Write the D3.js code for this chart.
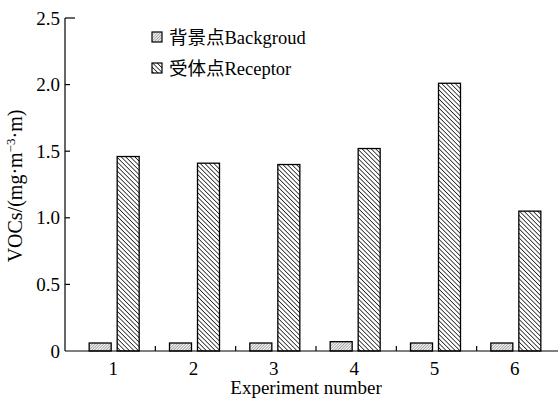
<!DOCTYPE html>
<html>
<head>
<meta charset="utf-8">
<script src="https://cdn.jsdelivr.net/npm/d3@7"></script>
<style>
  body { margin: 0; background: #fff; }
  text { font-family: "Liberation Serif", "Noto Sans CJK SC", serif; fill: #000; }
</style>
</head>
<body>
<div id="chart"></div>
<script>
const experiments = ["1", "2", "3", "4", "5", "6"];
const background = [0.06, 0.06, 0.06, 0.07, 0.06, 0.06];
const receptor = [1.46, 1.41, 1.40, 1.52, 2.01, 1.05];
const yTicks = [0, 0.5, 1.0, 1.5, 2.0, 2.5];
const seriesNames = ["背景点Backgroud", "受体点Receptor"];

const width = 559;
const height = 398;

const svg = d3.select("#chart")
  .append("svg")
  .attr("width", width)
  .attr("height", height);

const defs = svg.append("defs");

// fine "/" hatch for background
defs.append("pattern")
  .attr("id", "hatch-bg")
  .attr("patternUnits", "userSpaceOnUse")
  .attr("width", 2)
  .attr("height", 2)
  .attr("patternTransform", "rotate(45)")
  .append("line")
  .attr("x1", 0).attr("y1", 0).attr("x2", 0).attr("y2", 2)
  .attr("stroke", "#333")
  .attr("stroke-width", 0.9);

// wider "\" hatch for receptor
defs.append("pattern")
  .attr("id", "hatch-rec")
  .attr("patternUnits", "userSpaceOnUse")
  .attr("width", 3.2)
  .attr("height", 3.2)
  .attr("patternTransform", "rotate(-45)")
  .append("line")
  .attr("x1", 0).attr("y1", 0).attr("x2", 0).attr("y2", 3.2)
  .attr("stroke", "#000")
  .attr("stroke-width", 1.4);

const fills = ["url(#hatch-bg)", "url(#hatch-rec)"];

const x = d3.scaleBand()
  .domain(experiments)
  .range([75, 557]);

const y = d3.scaleLinear()
  .domain([0, 2.5])
  .range([351, 18]);

const barW = 22;
const gap = 6;

// bars
const groups = svg.selectAll("g.group")
  .data(experiments)
  .enter()
  .append("g")
  .attr("class", "group");

groups.append("rect")
  .attr("x", (d) => x(d) + x.bandwidth() / 2 - gap / 2 - barW - 1)
  .attr("y", (d, i) => y(background[i]))
  .attr("width", barW)
  .attr("height", (d, i) => y(0) - y(background[i]))
  .attr("fill", fills[0])
  .attr("stroke", "#000")
  .attr("stroke-width", 1.3);

groups.append("rect")
  .attr("x", (d) => x(d) + x.bandwidth() / 2 + gap / 2 - 1)
  .attr("y", (d, i) => y(receptor[i]))
  .attr("width", barW)
  .attr("height", (d, i) => y(0) - y(receptor[i]))
  .attr("fill", fills[1])
  .attr("stroke", "#000")
  .attr("stroke-width", 1.3);

// y axis (ticks point inward)
const yAxis = svg.append("g").attr("transform", "translate(65,0)");
yAxis.append("line")
  .attr("x1", 0).attr("x2", 0)
  .attr("y1", y(2.5)).attr("y2", y(0))
  .attr("stroke", "#000").attr("stroke-width", 1.2);
yAxis.selectAll("line.tick")
  .data(yTicks.filter((t) => t > 0))
  .enter()
  .append("line")
  .attr("class", "tick")
  .attr("x1", 0)
  .attr("x2", (d) => (d === 2.5 ? 10 : 5))
  .attr("y1", (d) => y(d)).attr("y2", (d) => y(d))
  .attr("stroke", "#000").attr("stroke-width", 1.2);
yAxis.selectAll("text")
  .data(yTicks)
  .enter()
  .append("text")
  .attr("x", -5)
  .attr("y", (d) => y(d))
  .attr("dy", "0.35em")
  .attr("text-anchor", "end")
  .style("font-size", "19px")
  .text((d) => (d === 0 ? "0" : d.toFixed(1)));

// x axis
const xAxis = svg.append("g").attr("transform", `translate(0,${y(0)})`);
xAxis.append("line")
  .attr("x1", 65).attr("x2", 558)
  .attr("y1", 0).attr("y2", 0)
  .attr("stroke", "#000").attr("stroke-width", 1.2);
xAxis.selectAll("line.tick")
  .data(experiments.slice(1))
  .enter()
  .append("line")
  .attr("class", "tick")
  .attr("x1", (d) => x(d)).attr("x2", (d) => x(d))
  .attr("y1", 0).attr("y2", -5)
  .attr("stroke", "#000").attr("stroke-width", 1.2);
xAxis.selectAll("text")
  .data(experiments)
  .enter()
  .append("text")
  .attr("x", (d) => x(d) + x.bandwidth() / 2 - 2)
  .attr("y", 24)
  .attr("text-anchor", "middle")
  .style("font-size", "19px")
  .text((d) => d);

svg.append("text")
  .attr("x", 306)
  .attr("y", 394)
  .attr("text-anchor", "middle")
  .style("font-size", "19px")
  .text("Experiment number");

// y label
const yLabel = svg.append("text")
  .attr("transform", "translate(22,186) rotate(-90)")
  .attr("text-anchor", "middle")
  .style("font-size", "20px");
yLabel.append("tspan").text("VOCs/(mg·m");
yLabel.append("tspan").attr("dy", -7).style("font-size", "13px").text("−3");
yLabel.append("tspan").attr("dy", 7).text("·m)");

// legend
const legend = svg.selectAll("g.legend")
  .data(seriesNames)
  .enter()
  .append("g")
  .attr("class", "legend")
  .attr("transform", (d, i) => `translate(152,${32 + i * 31})`);
legend.append("rect")
  .attr("width", 10).attr("height", 10)
  .attr("fill", (d, i) => fills[i])
  .attr("stroke", "#000").attr("stroke-width", 1.2);
legend.append("text")
  .attr("x", 17)
  .attr("y", 12)
  .style("font-size", "18.5px")
  .text((d) => d);
</script>
</body>
</html>
